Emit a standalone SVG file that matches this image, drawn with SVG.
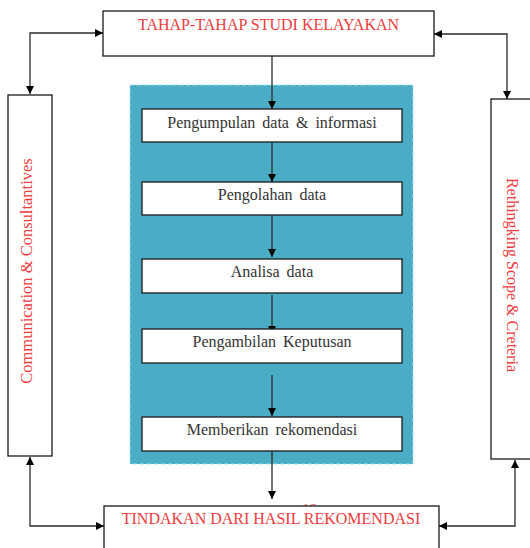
<svg xmlns="http://www.w3.org/2000/svg" width="530" height="548" viewBox="0 0 530 548">
  <style>
    .box { fill: #ffffff; stroke: #1a1a1a; stroke-width: 1.3; }
    .red { font-family: "Liberation Serif", "Times New Roman", serif; fill: #ee3b40; }
    .step { font-family: "Liberation Serif", "Times New Roman", serif; font-size: 16px; fill: #333333; text-anchor: middle; word-spacing: 3px; }
    .link { fill: none; stroke: #2b2b2b; stroke-width: 1.3; }
  </style>
  <defs>
    <marker id="arrow" viewBox="0 0 10 10" refX="10" refY="5" markerWidth="8" markerHeight="8" markerUnits="userSpaceOnUse" orient="auto-start-reverse">
      <path d="M0,0 L10,5 L0,10 Z" fill="#000000"/>
    </marker>
    <clipPath id="pageTop">
      <rect x="290" y="495" width="40" height="11"/>
    </clipPath>
  </defs>

  <rect width="530" height="548" fill="#ffffff"/>

  <!-- page number, only its top peeks out above the bottom box -->
  <text class="red" x="302" y="514" font-size="15" clip-path="url(#pageTop)">18</text>

  <!-- teal process panel -->
  <g id="panel">
    <rect x="130" y="85" width="283" height="379" fill="#4bacc6" stroke="#9fe3f0" stroke-width="1" stroke-dasharray="4 3"/>
  </g>

  <!-- connectors -->
  <g id="connectors">
    <line class="link" x1="272" y1="56" x2="272" y2="109" marker-end="url(#arrow)"/>
    <line class="link" x1="272" y1="142" x2="272" y2="182" marker-end="url(#arrow)"/>
    <line class="link" x1="272" y1="215" x2="272" y2="257" marker-end="url(#arrow)"/>
    <line class="link" x1="272" y1="295" x2="272" y2="334" marker-end="url(#arrow)"/>
    <line class="link" x1="272" y1="375" x2="272" y2="416" marker-end="url(#arrow)"/>
    <line class="link" x1="272" y1="451" x2="272" y2="499" marker-end="url(#arrow)"/>
    <!-- side loops -->
    <path class="link" d="M30,94 L30,33 L103,33" marker-start="url(#arrow)" marker-end="url(#arrow)"/>
    <path class="link" d="M434,34 L507,34 L507,99" marker-start="url(#arrow)" marker-end="url(#arrow)"/>
    <path class="link" d="M30,457 L30,526 L104,526" marker-start="url(#arrow)" marker-end="url(#arrow)"/>
    <path class="link" d="M439,526 L515,526 L515,460" marker-start="url(#arrow)" marker-end="url(#arrow)"/>
  </g>

  <g id="top">
    <rect class="box" x="103" y="11" width="331" height="45"/>
    <text class="red" x="268.5" y="30" font-size="16" text-anchor="middle">TAHAP-TAHAP STUDI KELAYAKAN</text>
  </g>

  <g id="step1">
    <rect class="box" x="142" y="109" width="260" height="33"/>
    <text class="step" x="272" y="128">Pengumpulan data &amp; informasi</text>
  </g>
  <g id="step2">
    <rect class="box" x="142" y="182" width="260" height="33"/>
    <text class="step" x="272" y="200">Pengolahan data</text>
  </g>
  <g id="step3">
    <rect class="box" x="142" y="259" width="260" height="34"/>
    <text class="step" x="272" y="277">Analisa data</text>
  </g>
  <g id="step4">
    <rect class="box" x="142" y="329" width="260" height="34"/>
    <text class="step" x="272" y="347">Pengambilan Keputusan</text>
  </g>
  <g id="step5">
    <rect class="box" x="142" y="417" width="260" height="34"/>
    <text class="step" x="272" y="435">Memberikan rekomendasi</text>
  </g>

  <g id="left">
    <rect class="box" x="8" y="95" width="44" height="361"/>
    <text class="red" font-size="16.5" text-anchor="middle" transform="translate(32,271) rotate(-90)">Communication &amp; Consultantives</text>
  </g>

  <g id="right">
    <rect class="box" x="491" y="99" width="45" height="360"/>
    <text class="red" font-size="16" text-anchor="middle" transform="translate(507,275) rotate(90)">Rethingking Scope &amp; Creteria</text>
  </g>

  <g id="bottom">
    <rect class="box" x="104" y="506" width="335" height="50"/>
    <text class="red" x="271" y="524" font-size="16" text-anchor="middle">TINDAKAN DARI HASIL REKOMENDASI</text>
  </g>
</svg>
